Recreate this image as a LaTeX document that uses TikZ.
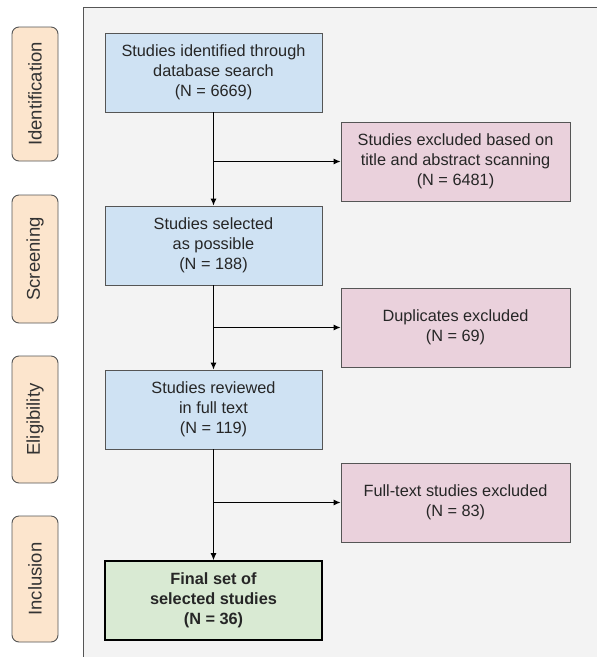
\documentclass[tikz,border=0pt]{standalone}
\usepackage{fontspec}
\setmainfont{Liberation Sans}
\usetikzlibrary{arrows.meta}
\definecolor{panel}{HTML}{F3F3F3}
\definecolor{bluefill}{HTML}{CFE2F3}
\definecolor{pinkfill}{HTML}{EAD1DC}
\definecolor{greenfill}{HTML}{D9EAD3}
\definecolor{orangefill}{HTML}{FCE5CD}
\definecolor{edge}{HTML}{555555}
\begin{document}
\begin{tikzpicture}[x=1pt,y=-1pt,
  boxbase/.style={draw=edge, line width=0.9pt, minimum width=217pt, minimum height=79pt, align=center, inner sep=2pt,
    font=\fontsize{16.3}{20}\selectfont, text=black!85},
  bluebox/.style={boxbase, fill=bluefill},
  pinkbox/.style={boxbase, fill=pinkfill, minimum width=229pt},
  greenbox/.style={boxbase, fill=greenfill, draw=black, line width=1.6pt, font=\fontsize{16.3}{20}\selectfont\bfseries},
  phase/.style={draw=edge, line width=0.9pt, fill=orangefill, rounded corners=7pt, minimum height=46pt,
    rotate=90, font=\fontsize{18.5}{20}\selectfont, text=black!80},
  flow/.style={line width=1pt, -{Latex[length=7pt,width=6pt]}},
  link/.style={line width=1pt}]
\useasboundingbox (0,0) rectangle (597,657);
\fill[white] (0,0) rectangle (597,657);
\fill[panel] (83,7) rectangle (597,657);
\draw[edge, line width=0.9pt] (83,657) -- (83,7) -- (597,7);

\node[phase, minimum width=134pt] (p1) at (35,94) {Identification};
\node[phase, minimum width=128pt] (p2) at (35,259) {Screening};
\node[phase, minimum width=127pt] (p3) at (35,419.5) {Eligibility};
\node[phase, minimum width=126pt] (p4) at (35,579) {Inclusion};

\node[bluebox] (b1) at (213.5,72.5) {Studies identified through\\database search\\(N = 6669)};
\node[pinkbox] (r1) at (455.5,161.5) {Studies excluded based on\\title and abstract scanning\\(N = 6481)};
\node[bluebox] (b2) at (213.5,245.5) {Studies selected\\as possible\\(N = 188)};
\node[pinkbox] (r2) at (455.5,327.5) {Duplicates excluded\\(N = 69)};
\node[bluebox] (b3) at (213.5,409.5) {Studies reviewed\\in full text\\(N = 119)};
\node[pinkbox] (r3) at (455.5,502.5) {Full-text studies excluded\\(N = 83)};
\node[greenbox] (g) at (213.5,600.5) {Final set of\\selected studies\\(N = 36)};

\coordinate (j1) at (b1.south |- r1.west);
\coordinate (j2) at (b2.south |- r2.west);
\coordinate (j3) at (b3.south |- r3.west);

\draw[flow] (b1.south) -- (b2.north);
\draw[flow] (b2.south) -- (b3.north);
\draw[flow] (b3.south) -- (g.north);
\draw[flow] (j1) -- (r1.west);
\draw[flow] (j2) -- (r2.west);
\draw[flow] (j3) -- (r3.west);
\end{tikzpicture}
\end{document}
